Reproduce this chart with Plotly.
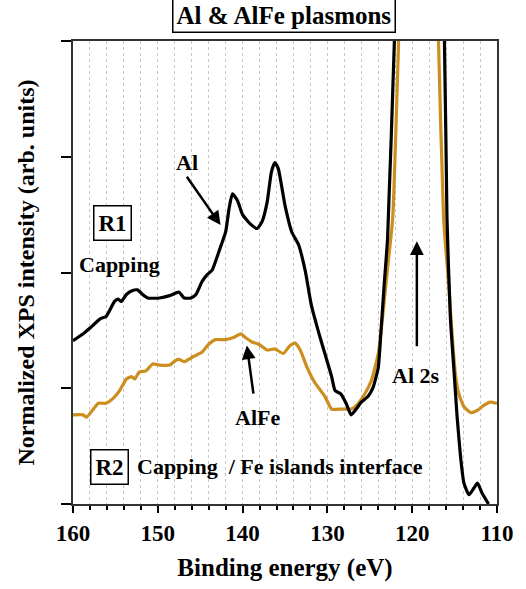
import plotly.graph_objects as go

# Binding energy (eV) and normalized intensity for the Al capping layer (R1)
energy_al = [160.0, 158.8, 158.0, 156.8, 156.1, 155.1, 154.7, 154.3, 153.7, 153.1,
             152.4, 151.8, 151.2, 149.8, 148.6, 147.5, 146.9, 146.1, 145.5, 144.8,
             144.2, 143.6, 142.8, 142.0, 141.6, 141.2, 140.6, 140.0, 139.1, 138.3,
             137.7, 137.1, 136.6, 136.2, 135.8, 135.0, 134.2, 133.4, 132.6, 131.9,
             131.1, 130.3, 129.5, 129.1, 128.4, 127.8, 127.2, 126.6, 126.0, 125.2,
             124.6, 124.0, 123.7, 123.3, 122.9, 122.1, 121.0, 119.5, 117.5, 116.2,
             115.9, 115.5, 115.1, 114.7, 114.3, 113.9, 113.3, 112.7, 112.3, 111.8,
             111.0]
intensity_al = [1.41, 1.47, 1.52, 1.60, 1.62, 1.75, 1.77, 1.75, 1.81, 1.84,
                1.85, 1.81, 1.78, 1.78, 1.80, 1.83, 1.78, 1.78, 1.81, 1.92,
                1.98, 2.02, 2.18, 2.35, 2.55, 2.68, 2.62, 2.50, 2.42, 2.38,
                2.44, 2.61, 2.87, 2.95, 2.90, 2.58, 2.35, 2.24, 2.01, 1.72,
                1.50, 1.30, 1.10, 0.98, 0.95, 0.87, 0.77, 0.82, 0.88, 0.93,
                1.01, 1.18, 1.47, 1.90, 2.30, 4.00, 6.50, 8.00, 6.50, 4.00,
                2.47, 1.61, 1.18, 0.75, 0.41, 0.18, 0.08, 0.14, 0.18, 0.10,
                0.00]

# Binding energy (eV) and normalized intensity for the AlFe interface (R2)
energy_alfe = [160.0, 158.8, 158.4, 157.6, 157.0, 156.1, 155.3, 154.5, 153.7, 153.1,
               152.7, 152.2, 151.4, 150.6, 149.8, 148.6, 147.9, 147.5, 146.9, 145.9,
               144.8, 144.0, 143.2, 142.0, 141.0, 140.2, 139.7, 138.9, 138.1, 137.1,
               136.2, 135.2, 134.4, 133.8, 133.2, 132.4, 131.5, 130.3, 129.5, 128.4,
               127.2, 126.6, 125.6, 124.8, 124.0, 123.5, 122.9, 122.3, 121.6, 120.5,
               119.0, 117.8, 116.9, 116.3, 115.7, 115.3, 114.9, 114.5, 113.9, 113.1,
               112.3, 111.6, 110.8, 110.0]
intensity_alfe = [0.77, 0.77, 0.75, 0.82, 0.87, 0.87, 0.91, 0.98, 1.08, 1.10,
                  1.08, 1.14, 1.15, 1.21, 1.20, 1.20, 1.24, 1.25, 1.23, 1.27,
                  1.31, 1.38, 1.42, 1.42, 1.44, 1.47, 1.44, 1.40, 1.38, 1.33,
                  1.34, 1.30, 1.37, 1.39, 1.33, 1.18, 1.05, 0.93, 0.82, 0.82,
                  0.82, 0.85, 0.95, 1.07, 1.30, 1.61, 2.04, 2.47, 4.00, 6.50,
                  7.50, 6.50, 4.00, 2.47, 1.90, 1.47, 1.12, 0.95, 0.84, 0.79,
                  0.81, 0.85, 0.88, 0.87]

x_ticks = [160, 150, 140, 130, 120, 110]

FONT = "Liberation Serif"
BLACK = "#000000"
GOLD = "#CC8E1E"

fig = go.Figure()
fig.add_trace(go.Scatter(x=energy_alfe, y=intensity_alfe, mode="lines",
                         line=dict(color=GOLD, width=3.2, shape="spline", smoothing=0.5),
                         showlegend=False))
fig.add_trace(go.Scatter(x=energy_al, y=intensity_al, mode="lines",
                         line=dict(color=BLACK, width=3.2, shape="spline", smoothing=0.5),
                         showlegend=False))


def label(x, y, text, size=22, **kw):
    fig.add_annotation(x=x, y=y, xref="x", yref="y", text=text, showarrow=False,
                       font=dict(family=FONT, size=size, color=BLACK, weight="bold"), **kw)


def arrow(x0, y0, x1, y1):
    fig.add_annotation(x=x1, y=y1, ax=x0, ay=y0, xref="x", yref="y", axref="x", ayref="y",
                       text="", showarrow=True, arrowhead=2, arrowsize=1.1,
                       arrowwidth=2.5, arrowcolor=BLACK)


label(146.5, 2.95, "Al")
arrow(146.7, 2.84, 142.6, 2.41)
label(138.2, 0.75, "AlFe")
arrow(138.7, 0.94, 139.5, 1.37)
label(119.6, 1.11, "Al 2s")
arrow(119.45, 1.35, 119.45, 2.27)
label(155.3, 2.43, "R1", size=23, bordercolor=BLACK, borderwidth=1.5, borderpad=4,
      bgcolor="white")
label(154.5, 2.07, "Capping")
label(155.7, 0.32, "R2", size=23, bordercolor=BLACK, borderwidth=1.5, borderpad=4,
      bgcolor="white")
label(152.7, 0.32, "Capping\u00a0 / Fe islands interface", xanchor="left")

# Boxed title
fig.add_annotation(x=0.497, y=1.0, xref="paper", yref="paper", yanchor="bottom",
                   yshift=8, text="Al & AlFe plasmons", showarrow=False,
                   font=dict(family=FONT, size=25, color=BLACK, weight="bold"),
                   bordercolor=BLACK, borderwidth=1.5, borderpad=3)

fig.update_layout(
    width=526, height=589,
    margin=dict(l=73, r=26, t=41, b=81),
    paper_bgcolor="white", plot_bgcolor="white",
    font=dict(family=FONT, color=BLACK),
    xaxis=dict(
        range=[160, 110], tickvals=x_ticks, ticks="outside", ticklen=7, tickwidth=1.5,
        tickcolor=BLACK, showline=True, linecolor="#333333", linewidth=2, mirror=True,
        tickfont=dict(family=FONT, size=23, color=BLACK, weight="bold"),
        showgrid=True, gridcolor="#c8c8c8", griddash="dot", gridwidth=1,
        minor=dict(dtick=2, tick0=110, ticks="outside", ticklen=4, tickwidth=1.5,
                   tickcolor=BLACK, showgrid=True, gridcolor="#c8c8c8",
                   griddash="dot", gridwidth=1),
        title=dict(text="Binding energy (eV)", standoff=14,
                   font=dict(family=FONT, size=25, color=BLACK, weight="bold")),
        zeroline=False,
    ),
    yaxis=dict(
        range=[0, 4], tickvals=[0, 1, 2, 3, 4], showticklabels=False,
        ticks="outside", ticklen=10, tickwidth=1.5, tickcolor=BLACK,
        showline=True, linecolor="#333333", linewidth=2, mirror=True,
        showgrid=False, zeroline=False,
        title=dict(text="Normalized XPS intensity (arb. units)", standoff=20,
                   font=dict(family=FONT, size=24, color=BLACK, weight="bold")),
    ),
)

fig.write_html("out.html")
